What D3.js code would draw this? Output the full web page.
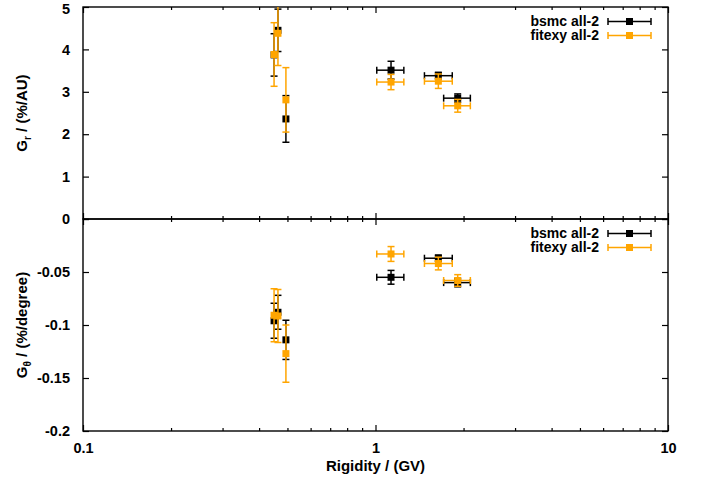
<!DOCTYPE html>
<html>
<head>
<meta charset="utf-8">
<script src="https://cdn.jsdelivr.net/npm/d3@7"></script>
<style>
  html, body { margin: 0; padding: 0; background: #fff; }
  svg text { font-family: "Liberation Sans", Arial, sans-serif; font-weight: bold; fill: #000; }
</style>
</head>
<body>
<svg id="chart" width="702" height="482"></svg>
<script>
// Rigidity (GV) of each bin, with its lower/upper bound
const rigidity     = [0.450, 0.464, 0.494, 1.13, 1.64, 1.91];
const rigidityLow  = [0.450, 0.464, 0.494, 1.01, 1.47, 1.71];
const rigidityHigh = [0.450, 0.464, 0.494, 1.25, 1.83, 2.11];

// Radial gradient G_r (%/AU)
const bsmcGr      = [3.87, 4.45, 2.36, 3.51, 3.38, 2.85];
const bsmcGrErr   = [0.50, 0.50, 0.55, 0.21, 0.08, 0.10];
const fitexyGr    = [3.88, 4.38, 2.81, 3.23, 3.25, 2.67];
const fitexyGrErr = [0.75, 0.76, 0.76, 0.18, 0.17, 0.15];

// Latitudinal gradient G_theta (%/degree)
const bsmcGt      = [-0.096, -0.088, -0.114, -0.055, -0.037, -0.060];
const bsmcGtErr   = [0.0165, 0.016, 0.0185, 0.0065, 0.003, 0.004];
const fitexyGt    = [-0.0908, -0.0915, -0.127, -0.033, -0.042, -0.058];
const fitexyGtErr = [0.025, 0.025, 0.027, 0.007, 0.006, 0.0055];

const seriesNames = ["bsmc all-2", "fitexy all-2"];
const seriesColors = ["#000000", "#ffa500"];

const xTicks = [0.1, 1, 10];
const xTickLabels = ["0.1", "1", "10"];
const grTicks = [0, 1, 2, 3, 4, 5];
const gtTicks = [-0.2, -0.15, -0.1, -0.05, 0];
const gtTickLabels = ["-0.2", "-0.15", "-0.1", "-0.05", ""];

const svg = d3.select("#chart");
const L = 83, R = 668, T = 7, M = 219, B = 431;

const x = d3.scaleLog().domain([0.1, 10]).range([L, R]);
const yTop = d3.scaleLinear().domain([0, 5]).range([M, T]);
const yBot = d3.scaleLinear().domain([-0.2, 0]).range([B, M]);

const minorX = [];
[0.1, 1].forEach(d => { for (let k = 2; k <= 9; k++) minorX.push(d * k); });

const fontSize = 15;
const tickFont = 14.5;
const legendFont = 14;

function panel(y, top, bottom, ticks, tickFmt, id, showXLabels) {
  const g = svg.append("g");
  // clip region for the data marks
  svg.append("clipPath").attr("id", id).append("rect")
    .attr("x", L).attr("y", top).attr("width", R - L).attr("height", bottom - top);

  // y ticks left (inward) with labels
  const axL = g.append("g").attr("transform", `translate(${L},0)`)
    .call(d3.axisLeft(y).tickValues(ticks).tickFormat(tickFmt).tickSizeInner(-6).tickSizeOuter(0).tickPadding(13));
  // y ticks right (mirror)
  const axR = g.append("g").attr("transform", `translate(${R},0)`)
    .call(d3.axisRight(y).tickValues(ticks).tickFormat("").tickSizeInner(-6).tickSizeOuter(0));
  // x ticks bottom and top (inward), major and minor
  const axB = g.append("g").attr("transform", `translate(0,${bottom})`)
    .call(d3.axisBottom(x).tickValues(xTicks).tickFormat((d, i) => showXLabels ? xTickLabels[i] : "")
      .tickSizeInner(-6).tickSizeOuter(0).tickPadding(12));
  const axBm = g.append("g").attr("transform", `translate(0,${bottom})`)
    .call(d3.axisBottom(x).tickValues(minorX).tickFormat("").tickSizeInner(-3).tickSizeOuter(0));
  const axT = g.append("g").attr("transform", `translate(0,${top})`)
    .call(d3.axisTop(x).tickValues(xTicks).tickFormat("").tickSizeInner(-6).tickSizeOuter(0));
  const axTm = g.append("g").attr("transform", `translate(0,${top})`)
    .call(d3.axisTop(x).tickValues(minorX).tickFormat("").tickSizeInner(-3).tickSizeOuter(0));

  [axL, axR, axB, axBm, axT, axTm].forEach(a => {
    a.select(".domain").remove();
    a.selectAll("line").attr("stroke", "#000").attr("stroke-width", 1.2);
    a.selectAll("text").attr("font-size", tickFont).attr("font-family", "Liberation Sans, Arial, sans-serif")
      .attr("font-weight", "bold").attr("fill", "#000");
  });
  // keep the topmost label inside the canvas
  axL.selectAll(".tick text").filter(d => y(d) < 10).attr("dy", "0.42em");

  // border
  g.append("rect").attr("x", L).attr("y", top).attr("width", R - L).attr("height", bottom - top)
    .attr("fill", "none").attr("stroke", "#000").attr("stroke-width", 1.4);
  return g;
}

function drawSeries(y, vals, errs, color, clipId) {
  const g = svg.append("g").attr("clip-path", `url(#${clipId})`)
    .attr("stroke", color).attr("stroke-width", 1.5).attr("fill", color);
  const cap = 3.5, sq = 3.5;
  vals.forEach((v, i) => {
    const cx = x(rigidity[i]), cy = y(v);
    const y0 = y(v - errs[i]), y1 = y(v + errs[i]);
    // vertical error bar with caps
    g.append("line").attr("x1", cx).attr("x2", cx).attr("y1", y0).attr("y2", y1);
    g.append("line").attr("x1", cx - cap).attr("x2", cx + cap).attr("y1", y0).attr("y2", y0);
    g.append("line").attr("x1", cx - cap).attr("x2", cx + cap).attr("y1", y1).attr("y2", y1);
    // horizontal error bar with caps
    const x0 = x(rigidityLow[i]), x1 = x(rigidityHigh[i]);
    if (x1 - x0 > 0.5) {
      g.append("line").attr("x1", x0).attr("x2", x1).attr("y1", cy).attr("y2", cy);
      g.append("line").attr("x1", x0).attr("x2", x0).attr("y1", cy - cap).attr("y2", cy + cap);
      g.append("line").attr("x1", x1).attr("x2", x1).attr("y1", cy - cap).attr("y2", cy + cap);
    }
    g.append("rect").attr("x", cx - sq).attr("y", cy - sq).attr("width", 2 * sq).attr("height", 2 * sq)
      .attr("stroke", "none");
  });
}

function legend(yFirst) {
  const g = svg.append("g");
  seriesNames.forEach((name, i) => {
    const ly = yFirst + i * 14;
    g.append("text").attr("x", 599).attr("y", ly).attr("dy", "0.35em")
      .attr("text-anchor", "end").attr("font-size", legendFont).text(name);
    const s = g.append("g").attr("stroke", seriesColors[i]).attr("stroke-width", 1.5);
    s.append("line").attr("x1", 608).attr("x2", 651).attr("y1", ly).attr("y2", ly);
    s.append("line").attr("x1", 608).attr("x2", 608).attr("y1", ly - 3.5).attr("y2", ly + 3.5);
    s.append("line").attr("x1", 651).attr("x2", 651).attr("y1", ly - 3.5).attr("y2", ly + 3.5);
    g.append("rect").attr("x", 629.5 - 3.5).attr("y", ly - 3.5).attr("width", 7).attr("height", 7)
      .attr("fill", seriesColors[i]);
  });
}

panel(yTop, T, M, grTicks, d => d3.format("d")(d), "clipTop", false);
panel(yBot, M, B, gtTicks, (d, i) => gtTickLabels[i], "clipBot", true);

drawSeries(yTop, bsmcGr, bsmcGrErr, seriesColors[0], "clipTop");
drawSeries(yTop, fitexyGr, fitexyGrErr, seriesColors[1], "clipTop");
drawSeries(yBot, bsmcGt, bsmcGtErr, seriesColors[0], "clipBot");
drawSeries(yBot, fitexyGt, fitexyGtErr, seriesColors[1], "clipBot");

legend(21.5);
legend(233.5);

// axis titles
svg.append("text").attr("x", (L + R) / 2).attr("y", 471).attr("text-anchor", "middle")
  .attr("font-size", fontSize).text("Rigidity / (GV)");

const t1 = svg.append("text").attr("transform", `translate(27,${(T + M) / 2}) rotate(-90)`)
  .attr("text-anchor", "middle").attr("font-size", fontSize);
t1.append("tspan").text("G");
t1.append("tspan").attr("font-size", 10).attr("dy", 4).text("r");
t1.append("tspan").attr("dy", -4).text(" / (%/AU)");

const t2 = svg.append("text").attr("transform", `translate(27,${(M + B) / 2}) rotate(-90)`)
  .attr("text-anchor", "middle").attr("font-size", fontSize);
t2.append("tspan").text("G");
t2.append("tspan").attr("font-size", 10).attr("dy", 4).text("θ");
t2.append("tspan").attr("dy", -4).text(" / (%/degree)");
</script>
</body>
</html>
